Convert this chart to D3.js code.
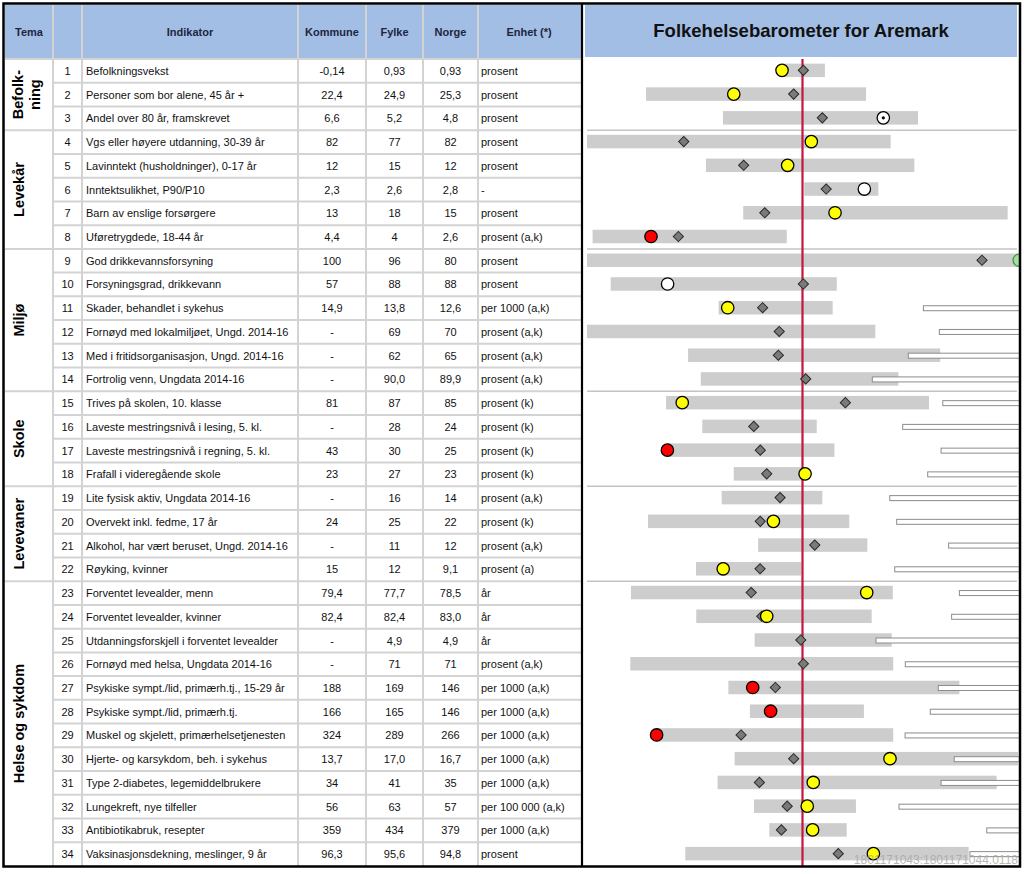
<!DOCTYPE html>
<html><head><meta charset="utf-8">
<script src="https://cdn.jsdelivr.net/npm/d3@7/dist/d3.min.js"></script>
<style>
html,body{margin:0;padding:0;background:#fff;}
svg{display:block;font-family:"Liberation Sans",Arial,sans-serif;}
</style></head>
<body>
<svg id="chart" width="1024" height="874"></svg>
<script>
// ---------- DATA ----------
const headers = ["Tema", "", "Indikator", "Kommune", "Fylke", "Norge", "Enhet (*)"];
const chartTitle = "Folkehelsebarometer for Aremark";
const temaNames = [["Befolk-","ning"], ["Levekår"], ["Miljø"], ["Skole"], ["Levevaner"], ["Helse og sykdom"]];
const temaSizes = [3, 5, 6, 4, 4, 12];
const indicators = [
 "Befolkningsvekst","Personer som bor alene, 45 år +","Andel over 80 år, framskrevet",
 "Vgs eller høyere utdanning, 30-39 år","Lavinntekt (husholdninger), 0-17 år","Inntektsulikhet, P90/P10",
 "Barn av enslige forsørgere","Uføretrygdede, 18-44 år",
 "God drikkevannsforsyning","Forsyningsgrad, drikkevann","Skader, behandlet i sykehus",
 "Fornøyd med lokalmiljøet, Ungd. 2014-16","Med i fritidsorganisasjon, Ungd. 2014-16","Fortrolig venn, Ungdata 2014-16",
 "Trives på skolen, 10. klasse","Laveste mestringsnivå i lesing, 5. kl.","Laveste mestringsnivå i regning, 5. kl.",
 "Frafall i videregående skole",
 "Lite fysisk aktiv, Ungdata 2014-16","Overvekt inkl. fedme, 17 år","Alkohol, har vært beruset, Ungd. 2014-16","Røyking, kvinner",
 "Forventet levealder, menn","Forventet levealder, kvinner","Utdanningsforskjell i forventet levealder",
 "Fornøyd med helsa, Ungdata 2014-16","Psykiske sympt./lid, primærh.tj., 15-29 år","Psykiske sympt./lid, primærh.tj.",
 "Muskel og skjelett, primærhelsetjenesten","Hjerte- og karsykdom, beh. i sykehus","Type 2-diabetes, legemiddelbrukere",
 "Lungekreft, nye tilfeller","Antibiotikabruk, resepter","Vaksinasjonsdekning, meslinger, 9 år"
];
const kommune = ["-0,14","22,4","6,6","82","12","2,3","13","4,4","100","57","14,9","-","-","-","81","-","43","23","-","24","-","15","79,4","82,4","-","-","188","166","324","13,7","34","56","359","96,3"];
const fylke   = ["0,93","24,9","5,2","77","15","2,6","18","4","96","88","13,8","69","62","90,0","87","28","30","27","16","25","11","12","77,7","82,4","4,9","71","169","165","289","17,0","41","63","434","95,6"];
const norge   = ["0,93","25,3","4,8","82","12","2,8","15","2,6","80","88","12,6","70","65","89,9","85","24","25","23","14","22","12","9,1","78,5","83,0","4,9","71","146","146","266","16,7","35","57","379","94,8"];
const enhet = ["prosent","prosent","prosent","prosent","prosent","-","prosent","prosent (a,k)",
 "prosent","prosent","per 1000 (a,k)","prosent (a,k)","prosent (a,k)","prosent (a,k)",
 "prosent (k)","prosent (k)","prosent (k)","prosent (k)",
 "prosent (a,k)","prosent (k)","prosent (a,k)","prosent (a)",
 "år","år","år","prosent (a,k)","per 1000 (a,k)","per 1000 (a,k)","per 1000 (a,k)","per 1000 (a,k)",
 "per 1000 (a,k)","per 100 000 (a,k)","per 1000 (a,k)","prosent"];
// standardised positions (Norway = 0, scale -100..100)
const rangeMin = [-9.0,-72.6,-36.9,-100,-44.8,0.8,-27.5,-97.4,-100,-89.0,-38.9,-100,-53.1,-47.2,-63.3,-46.5,-62.7,-31.9,-37.5,-71.7,-20.6,-49.4,-79.6,-49.3,-22.2,-79.9,-34.4,-24.4,-67.7,-31.5,-39.4,-22.5,-15.4,-54.4];
const rangeMax = [10.4,29.5,53.6,40.9,51.9,35.2,95.2,-7.3,100,15.9,14.0,33.8,63.9,44.5,58.7,6.6,14.8,1.2,9.2,21.7,30.1,-0.6,41.9,32.1,41.4,42.1,72.8,28.5,42.1,100,90.1,24.8,20.5,77.1];
const fylkeScore = [0.4,-4.1,9.2,-55.1,-27.3,11.0,-17.5,-57.6,83.3,0.4,-18.5,-10.8,-11.2,1.5,19.9,-22.6,-19.6,-16.6,-10.4,-19.6,5.7,-19.7,-23.8,-18.9,-0.8,0.4,-12.6,-14.9,-28.5,-4.1,-20.0,-7.1,-9.8,16.6];
const kommuneScore = [-9.5,-31.9,37.5,4.1,-6.9,28.7,15.1,-70.3,100.6,-62.6,-34.7,null,null,null,-55.8,null,-62.7,1.2,null,-13.5,null,-36.8,29.8,-16.6,null,null,-23.1,-14.8,-67.7,40.6,5.0,2.2,4.7,32.9];
const kommuneClass = ["yellow","yellow","dot","yellow","yellow","white","yellow","red","green","white","yellow",null,null,null,"yellow",null,"red","yellow",null,"yellow",null,"yellow","yellow","yellow",null,null,"red","red","red","yellow","yellow","yellow","yellow","yellow"];
const openBarStart = [null,null,null,null,null,null,null,null,null,null,56.1,63.5,49.1,32.4,65.1,46.5,64.3,58.1,40.5,43.7,67.8,42.8,72.8,69.2,34.1,47.7,63.0,59.3,47.6,70.4,64.3,44.8,85.5,77.7];
const footnote = "1801171043:1801171044.0118";

// ---------- LAYOUT ----------
const svg = d3.select("#chart");
const topY = 5, headBottom = 59, bottomY = 866;
const colEdges = [5, 53, 82, 298, 366, 423, 478, 581];
const headerBlue = "#a3bee5";
const gridColor = "#d3d3d3";
const n = indicators.length;
const rows = d3.range(n);
const y = d3.scaleBand().domain(rows).range([headBottom, bottomY]);
const x = d3.scaleLinear().domain([-100, 100]).range([587, 1018]);

// group boundaries
const groupStarts = [];
let acc = 0;
temaSizes.forEach(s => { groupStarts.push(acc); acc += s; });

// ---------- TABLE ----------
const tbl = svg.append("g");
tbl.append("rect").attr("x", colEdges[0]).attr("y", topY).attr("width", colEdges[7] - colEdges[0]).attr("height", headBottom - topY).attr("fill", headerBlue);

const headerCenters = [29, 67.5, 190, 332, 394.5, 450.5, 529];
headers.forEach((h, i) => {
  tbl.append("text").attr("x", headerCenters[i]).attr("y", 36).attr("text-anchor", "middle")
    .attr("font-size", 11).attr("font-weight", "bold").attr("fill", "#1c2640").text(h);
});

rows.forEach(i => {
  if (i === 0) return;
  const isGroup = groupStarts.includes(i);
  tbl.append("line").attr("x1", isGroup ? colEdges[0] : colEdges[1]).attr("x2", colEdges[7])
    .attr("y1", y(i)).attr("y2", y(i)).attr("stroke", gridColor).attr("stroke-width", 2);
});
tbl.append("line").attr("x1", colEdges[0]).attr("x2", colEdges[7]).attr("y1", headBottom).attr("y2", headBottom)
  .attr("stroke", gridColor).attr("stroke-width", 2);
colEdges.slice(1, 7).forEach(cx => {
  tbl.append("line").attr("x1", cx).attr("x2", cx).attr("y1", topY).attr("y2", bottomY)
    .attr("stroke", gridColor).attr("stroke-width", 2);
});

const cellG = tbl.append("g").attr("font-size", 11).attr("fill", "#111");
rows.forEach(i => {
  const cy = y(i) + y.bandwidth() / 2 + 4;
  cellG.append("text").attr("x", 67.5).attr("y", cy).attr("text-anchor", "middle").text(i + 1);
  cellG.append("text").attr("x", 86).attr("y", cy).text(indicators[i]);
  cellG.append("text").attr("x", 332).attr("y", cy).attr("text-anchor", "middle").text(kommune[i]);
  cellG.append("text").attr("x", 394.5).attr("y", cy).attr("text-anchor", "middle").text(fylke[i]);
  cellG.append("text").attr("x", 450.5).attr("y", cy).attr("text-anchor", "middle").text(norge[i]);
  cellG.append("text").attr("x", 481).attr("y", cy).text(enhet[i]);
});

temaNames.forEach((lines, g) => {
  const y0 = y(groupStarts[g]);
  const y1 = y(groupStarts[g] + temaSizes[g] - 1) + y.bandwidth();
  const cy = (y0 + y1) / 2;
  const bases = lines.length === 2 ? [23, 40] : [24];
  lines.forEach((ln, k) => {
    tbl.append("text").attr("transform", `translate(${bases[k]},${cy}) rotate(-90)`)
      .attr("text-anchor", "middle").attr("font-size", 14.5).attr("font-weight", "bold").attr("fill", "#000").text(ln);
  });
});

// ---------- PLOT ----------
const plot = svg.append("g");
plot.append("rect").attr("x", 585).attr("y", topY).attr("width", 432).attr("height", 52).attr("fill", headerBlue);
plot.append("text").attr("x", 801).attr("y", 37).attr("text-anchor", "middle").attr("font-size", 18.5)
  .attr("font-weight", "bold").attr("fill", "#111").text(chartTitle);

svg.append("defs").append("clipPath").attr("id", "pclip").append("rect")
  .attr("x", 585).attr("y", headBottom - 2).attr("width", 434.5).attr("height", bottomY - headBottom + 4);
const pg = plot.append("g").attr("clip-path", "url(#pclip)");

groupStarts.slice(1).forEach(s => {
  pg.append("line").attr("x1", x(-100)).attr("x2", x(100) - 1).attr("y1", y(s)).attr("y2", y(s))
    .attr("stroke", "#c4c4c4").attr("stroke-width", 1.5);
});

const barH = 13.5;
pg.selectAll("rect.range").data(rows).join("rect").attr("class", "range")
  .attr("x", i => x(rangeMin[i])).attr("width", i => x(rangeMax[i]) - x(rangeMin[i]))
  .attr("y", i => y(i) + y.bandwidth() / 2 - barH / 2 - 0.5).attr("height", barH).attr("fill", "#cdcdcd");
pg.selectAll("rect.open").data(rows.filter(i => openBarStart[i] !== null)).join("rect").attr("class", "open")
  .attr("x", i => x(openBarStart[i])).attr("width", i => x(100) + 4 - x(openBarStart[i]))
  .attr("y", i => y(i) + y.bandwidth() / 2 - 2.5).attr("height", 5)
  .attr("fill", "#fff").attr("stroke", "#8c8c8c").attr("stroke-width", 1);

pg.append("line").attr("x1", x(0)).attr("x2", x(0)).attr("y1", headBottom).attr("y2", bottomY)
  .attr("stroke", "#c2163f").attr("stroke-width", 2.2);

const diamond = d3.symbol().type(d3.symbolSquare).size(52);
pg.selectAll("path.fylke").data(rows).join("path").attr("class", "fylke")
  .attr("d", diamond)
  .attr("transform", i => `translate(${x(fylkeScore[i])},${y(i) + y.bandwidth() / 2 - 0.5}) rotate(45)`)
  .attr("fill", "#7a7a7a").attr("stroke", "#2a2a2a").attr("stroke-width", 1);

const fillMap = {yellow: "#ffff00", red: "#ff0000", white: "#ffffff", dot: "#ffffff", green: "#a8dca0"};
const strokeMap = {yellow: "#000", red: "#000", white: "#000", dot: "#000", green: "#3a9a3a"};
const kRows = rows.filter(i => kommuneScore[i] !== null);
pg.selectAll("circle.kom").data(kRows).join("circle").attr("class", "kom")
  .attr("cx", i => x(kommuneScore[i])).attr("cy", i => y(i) + y.bandwidth() / 2 - 0.5).attr("r", 6.2)
  .attr("fill", i => fillMap[kommuneClass[i]]).attr("stroke", i => strokeMap[kommuneClass[i]]).attr("stroke-width", 1.3);
pg.selectAll("circle.dot").data(kRows.filter(i => kommuneClass[i] === "dot")).join("circle").attr("class", "dot")
  .attr("cx", i => x(kommuneScore[i])).attr("cy", i => y(i) + y.bandwidth() / 2 - 0.5).attr("r", 1.6).attr("fill", "#000");

svg.append("text").attr("x", 1018).attr("y", 864).attr("text-anchor", "end").attr("font-size", 12)
  .attr("fill", "#a8a8a8").attr("fill-opacity", 0.85).text(footnote);

// ---------- BORDERS ----------
const b = svg.append("g").attr("fill", "none").attr("stroke", "#000");
b.append("rect").attr("x", 3.5).attr("y", 3.5).attr("width", 1016.5).attr("height", 863).attr("stroke-width", 2.5);
b.append("line").attr("x1", 582).attr("x2", 582).attr("y1", 3).attr("y2", 867).attr("stroke-width", 2.2);
</script>
</body></html>
